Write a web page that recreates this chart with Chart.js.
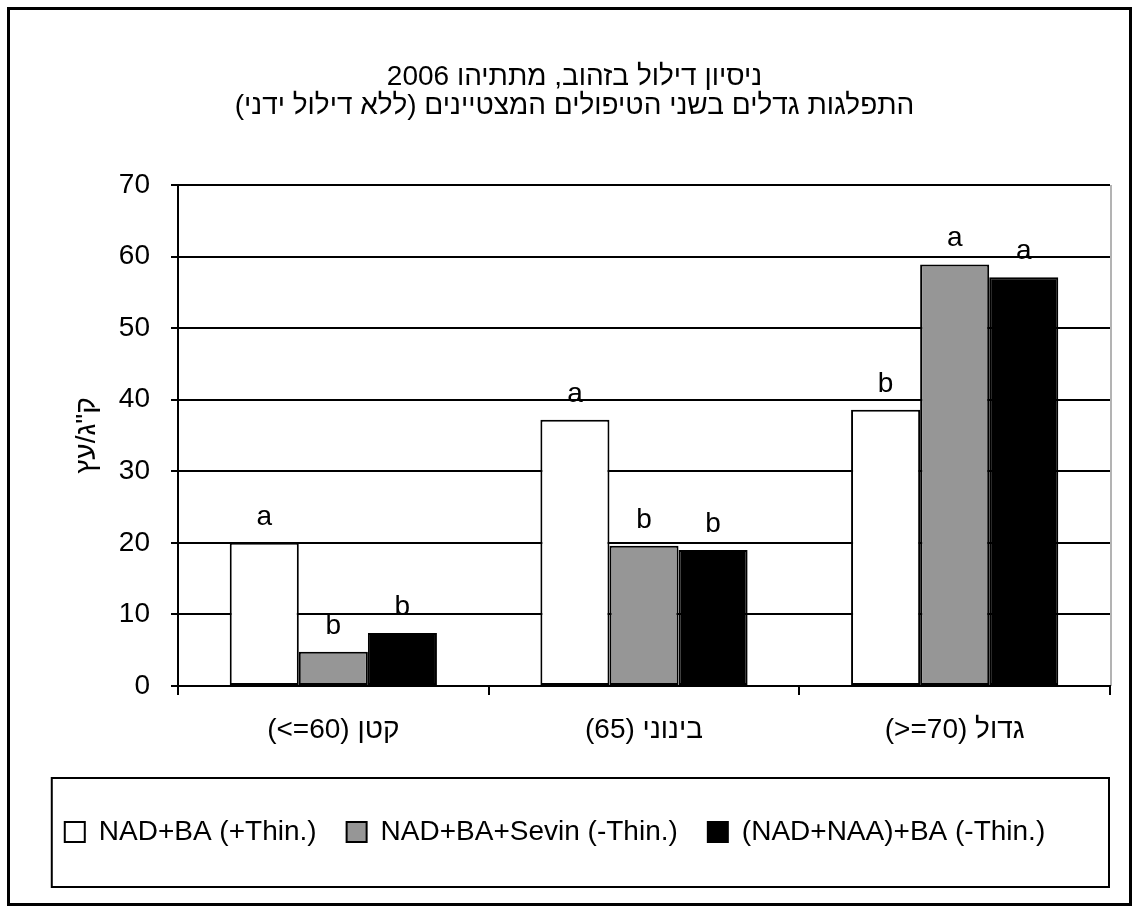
<!DOCTYPE html>
<html>
<head>
<meta charset="utf-8">
<title>דילול בזהוב 2006</title>
<script src="https://cdn.jsdelivr.net/npm/chart.js@4.4.1/dist/chart.umd.min.js"></script>
<style>
    html, body { margin: 0; padding: 0; background: #fff; }
    canvas { display: block; }
</style>
</head>
<body>
<canvas id="yield-chart" width="1139" height="913"></canvas>
<script>
// --- Data ---
const categories = ["(<=60) קטן", "(65) בינוני", "(>=70) גדול"];
const seriesNames = ["NAD+BA (+Thin.)", "NAD+BA+Sevin (-Thin.)", "(NAD+NAA)+BA (-Thin.)"];
const thinnedValues = [20.0, 37.2, 38.6];
const sevinValues = [4.8, 19.6, 58.9];
const naaValues = [7.4, 19.0, 57.1];
// significance letters above each bar
const thinnedLetters = ["a", "a", "b"];
const sevinLetters = ["b", "b", "a"];
const naaLetters = ["b", "b", "a"];
const yTicks = [0, 10, 20, 30, 40, 50, 60, 70];
const titleLines = [
    "ניסיון דילול בזהוב, מתתיהו 2006",
    "התפלגות גדלים בשני הטיפולים המצטיינים (ללא דילול ידני)"
];
const yTitle = 'ק"ג/עץ';

const FONT = '"Liberation Sans", Arial, sans-serif';
Chart.defaults.font.family = FONT;
Chart.defaults.font.size = 28;
Chart.defaults.color = "#000";

// --- Plugins ---
const framePlugin = {
    id: "frame",
    beforeDraw(chart) {
        const ctx = chart.ctx;
        const area = chart.chartArea;
        ctx.save();
        ctx.fillStyle = "#fff";
        ctx.fillRect(0, 0, chart.width, chart.height);
        ctx.strokeStyle = "#000";
        ctx.lineWidth = 3;
        ctx.strokeRect(8.5, 8.5, chart.width - 17, chart.height - 17);
        // grey plot-area edge on the right
        ctx.strokeStyle = "#9a9a9a";
        ctx.lineWidth = 1.5;
        ctx.beginPath();
        ctx.moveTo(area.right + 1, area.top);
        ctx.lineTo(area.right + 1, area.bottom);
        ctx.stroke();
        ctx.restore();
    }
};

const headlinePlugin = {
    id: "headline",
    afterDraw(chart) {
        const ctx = chart.ctx;
        ctx.save();
        ctx.font = "28px " + FONT;
        ctx.fillStyle = "#000";
        ctx.textAlign = "center";
        ctx.textBaseline = "alphabetic";
        ctx.direction = "rtl";
        titleLines.forEach((line, i) => {
            ctx.fillText(line, chart.width / 2 + 5, 85 + i * 29);
        });
        ctx.restore();
    }
};

const lettersPlugin = {
    id: "letters",
    afterDatasetsDraw(chart) {
        const ctx = chart.ctx;
        ctx.save();
        ctx.font = "28px " + FONT;
        ctx.fillStyle = "#000";
        ctx.textAlign = "center";
        ctx.textBaseline = "alphabetic";
        chart.data.datasets.forEach((ds, i) => {
            const meta = chart.getDatasetMeta(i);
            meta.data.forEach((bar, j) => {
                ctx.fillText(ds.letters[j], bar.x, bar.y - 18);
            });
        });
        ctx.restore();
    }
};

// box round the legend, right edge lined up with the plot area
const legendFramePlugin = {
    id: "legendFrame",
    afterDraw(chart) {
        const legend = chart.legend;
        const boxes = legend.legendHitBoxes;
        if (!boxes || !boxes.length) return;
        const left = boxes[0].left - 13;
        const right = chart.chartArea.right - 1;
        const top = legend.top - 10;
        const bottom = legend.top + 99;
        const ctx = chart.ctx;
        ctx.save();
        ctx.strokeStyle = "#000";
        ctx.lineWidth = 2;
        ctx.strokeRect(left, top, right - left, bottom - top);
        ctx.restore();
    }
};

// --- Chart ---
const ctx = document.getElementById("yield-chart").getContext("2d");
new Chart(ctx, {
    type: "bar",
    data: {
        labels: categories,
        datasets: [
            {
                label: seriesNames[0],
                data: thinnedValues,
                letters: thinnedLetters,
                backgroundColor: "#ffffff",
                borderColor: "#000",
                borderWidth: 2
            },
            {
                label: seriesNames[1],
                data: sevinValues,
                letters: sevinLetters,
                backgroundColor: "#969696",
                borderColor: "#000",
                borderWidth: 2
            },
            {
                label: seriesNames[2],
                data: naaValues,
                letters: naaLetters,
                backgroundColor: "#000000",
                borderColor: "#000",
                borderWidth: 2
            }
        ]
    },
    options: {
        responsive: false,
        animation: false,
        devicePixelRatio: 1,
        datasets: {
            bar: {
                categoryPercentage: 0.667,
                barPercentage: 1,
                borderSkipped: false
            }
        },
        layout: {
            padding: { top: 185, left: 0, right: 29, bottom: 57 }
        },
        plugins: {
            title: { display: false },
            tooltip: { enabled: false },
            legend: {
                position: "bottom",
                labels: {
                    boxWidth: 20,
                    boxHeight: 20,
                    padding: 30,
                    font: { size: 28 },
                    color: "#000"
                }
            }
        },
        scales: {
            x: {
                afterFit: (scale) => { scale.height = 102; },
                grid: {
                    drawOnChartArea: false,
                    drawTicks: true,
                    tickLength: 9,
                    color: "#000",
                    lineWidth: 2
                },
                border: { color: "#000", width: 2 },
                ticks: { padding: 18, font: { size: 28 }, color: "#000" }
            },
            y: {
                min: 0,
                max: 70,
                afterFit: (scale) => { scale.width = 178; },
                afterBuildTicks: (scale) => {
                    scale.ticks = yTicks.map(v => ({ value: v }));
                },
                grid: {
                    color: "#000",
                    lineWidth: 2,
                    tickLength: 7
                },
                border: { color: "#000", width: 2 },
                ticks: { padding: 21, font: { size: 28 }, color: "#000" },
                title: {
                    display: true,
                    text: yTitle,
                    font: { size: 28 },
                    color: "#000",
                    padding: { top: 70, bottom: 0 }
                }
            }
        }
    },
    plugins: [framePlugin, headlinePlugin, lettersPlugin, legendFramePlugin]
});
</script>
</body>
</html>
